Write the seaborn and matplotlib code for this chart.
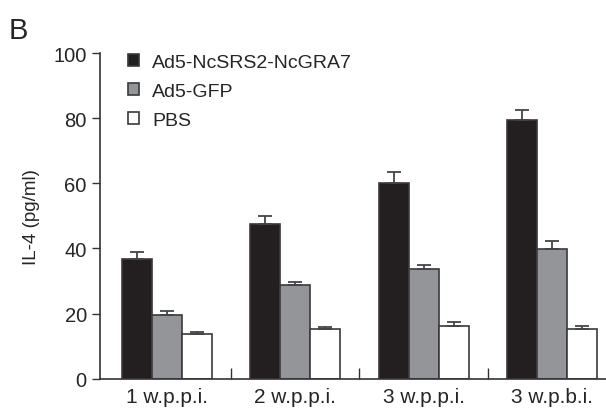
import pandas as pd
import matplotlib.pyplot as plt
import seaborn as sns

weeks = ['1 w.p.p.i.', '2 w.p.p.i.', '3 w.p.p.i.', '3 w.p.b.i.']
groups = ['Ad5-NcSRS2-NcGRA7', 'Ad5-GFP', 'PBS']
vaccine = [36.8, 47.6, 60.1, 79.5]
gfp = [19.6, 28.9, 33.7, 39.8]
pbs = [13.8, 15.2, 16.1, 15.4]
vaccine_sd = [2.2, 2.5, 3.4, 3.2]
gfp_sd = [1.3, 0.8, 1.3, 2.4]
pbs_sd = [0.6, 0.6, 1.4, 0.7]

rows = []
for g, vals, sds in zip(groups, [vaccine, gfp, pbs], [vaccine_sd, gfp_sd, pbs_sd]):
    for w, v, s in zip(weeks, vals, sds):
        rows.append({'week': w, 'group': g, 'il4': v, 'sd': s})
df = pd.DataFrame(rows)

sns.set_style('ticks')
plt.rcParams['font.family'] = ['Liberation Sans', 'DejaVu Sans']

fig = plt.figure(figsize=(6.06, 4.14), dpi=100)
ax = fig.add_axes([0.165, 0.083, 0.835, 0.786])

palette = {'Ad5-NcSRS2-NcGRA7': '#231f20', 'Ad5-GFP': '#939598', 'PBS': '#ffffff'}
sns.barplot(data=df, x='week', y='il4', hue='group', hue_order=groups, order=weeks,
            palette=palette, width=0.7, errorbar=None, edgecolor='#3a3a3a',
            linewidth=1.2, saturation=1, ax=ax)

# error bars (upper only) placed on the bars seaborn drew
bars = [p for p in ax.patches if p.get_height() > 0]
sd_lookup = dict(zip(zip(df['group'], df['week']), df['sd']))
i = 0
for g in groups:
    for w in weeks:
        p = bars[i]
        xc = p.get_x() + p.get_width() / 2
        ax.errorbar(xc, p.get_height(), yerr=[[0], [sd_lookup[(g, w)]]],
                    color='#444444', capsize=5, elinewidth=1.3, capthick=1.3)
        i += 1

ax.set_ylim(0, 100)
ax.set_xlim(-0.52, 3.42)
ax.set_yticks([0, 20, 40, 60, 80, 100])
ax.set_xticks([0.5, 1.5, 2.5])
ax.set_xticklabels([])
ax.set_xticks(range(4), labels=weeks, minor=True)
ax.tick_params(axis='x', which='major', direction='in', length=8, width=1, color='#333333')
ax.tick_params(axis='x', which='minor', length=0, labelsize=15, pad=6)
ax.tick_params(axis='y', length=6, width=1, labelsize=14.5, color='#333333')
for s in ['top', 'right']:
    ax.spines[s].set_visible(False)
for s in ['left', 'bottom']:
    ax.spines[s].set_color('#333333')
    ax.spines[s].set_linewidth(1.2)

ax.set_xlabel('')
ax.set_ylabel('IL-4 (pg/ml)', fontsize=13.5, labelpad=10)

handles, labels = ax.get_legend_handles_labels()
ax.legend(handles, labels, loc='upper left', bbox_to_anchor=(0.055, 0.998),
          frameon=False, fontsize=14, handlelength=0.55, handleheight=0.55,
          handletextpad=0.7, labelspacing=0.62, borderpad=0, borderaxespad=0)

fig.text(0.015, 0.905, 'B', fontsize=21)

plt.savefig('out.png', dpi=100)
